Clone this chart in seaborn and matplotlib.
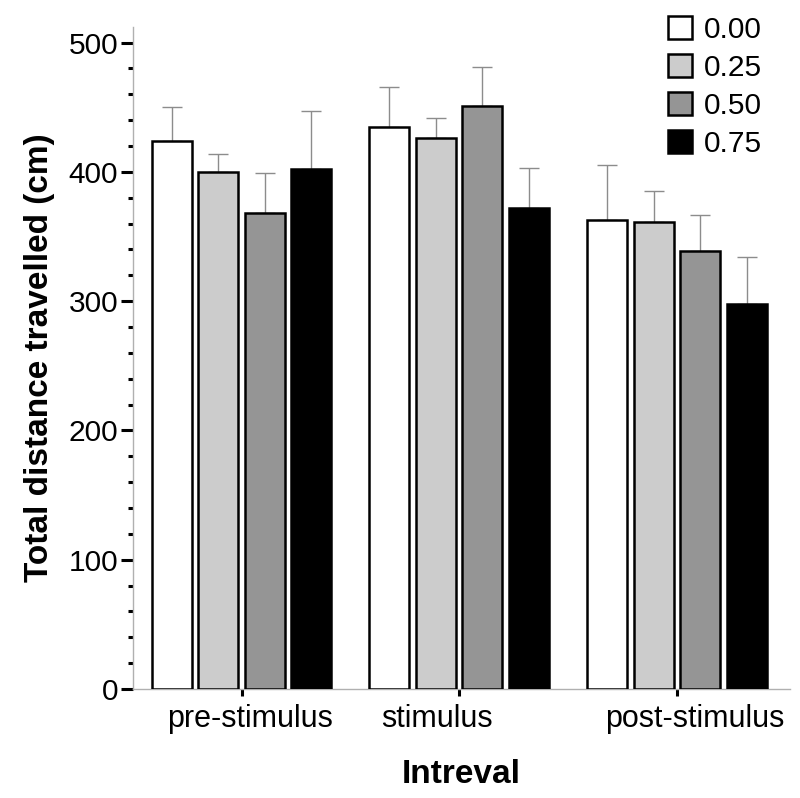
import matplotlib
matplotlib.use("Agg")
import matplotlib.pyplot as plt
import matplotlib.transforms as mtransforms
from matplotlib.ticker import MultipleLocator
import numpy as np
import pandas as pd
import seaborn as sns

# values
intervals = ['pre-stimulus', 'stimulus', 'post-stimulus']
concs = ['0.00', '0.25', '0.50', '0.75']
mean_000 = [424, 435, 363]
mean_025 = [400, 426, 361]
mean_050 = [368, 451, 339]
mean_075 = [402, 372, 298]
err_000 = [26, 31, 42]
err_025 = [14, 16, 24]
err_050 = [31, 30, 28]
err_075 = [45, 31, 36]
bar_colors = ['#ffffff', '#cccccc', '#959595', '#000000']

means = [mean_000, mean_025, mean_050, mean_075]
errs = [err_000, err_025, err_050, err_075]
rows = []
for c, m in zip(concs, means):
    for iv, v in zip(intervals, m):
        rows.append({'interval': iv, 'conc': c, 'distance': v})
df = pd.DataFrame(rows)

sns.set_style('ticks')
plt.rcParams['font.family'] = ['Liberation Sans', 'DejaVu Sans']
plt.rcParams['text.color'] = 'black'
plt.rcParams['axes.labelcolor'] = 'black'
plt.rcParams['xtick.color'] = 'black'
plt.rcParams['ytick.color'] = 'black'

fig = plt.figure(figsize=(8, 7.98), dpi=100)
ax = fig.add_axes([0.166, 0.1366, 0.8215, 0.8294])

sns.barplot(data=df, x='interval', y='distance', hue='conc', order=intervals,
            hue_order=concs, palette=bar_colors, edgecolor='black', linewidth=1.8,
            width=0.855, gap=0.14, errorbar=None, ax=ax, zorder=3)

# upper error bars only, drawn behind the bars so the lower cap is hidden
for cont, e in zip(ax.containers, errs):
    xs = [b.get_x() + b.get_width() / 2 for b in cont]
    ys = [b.get_height() for b in cont]
    ax.errorbar(xs, ys, yerr=[np.zeros(len(e)), e], fmt='none', ecolor='#8c8c8c',
                elinewidth=1, capsize=7.5, capthick=1, zorder=1)

ax.set_xlim(-0.5, 2.52)
ax.set_ylim(0, 512)
ax.yaxis.set_major_locator(MultipleLocator(100))
ax.yaxis.set_minor_locator(MultipleLocator(20))

sns.despine(ax=ax)
for s in ['left', 'bottom']:
    ax.spines[s].set_color('#b0b0b0')
    ax.spines[s].set_linewidth(1)

ax.tick_params(axis='y', which='major', length=8.5, width=2.2, color='black',
               labelsize=21.5, pad=2, labelcolor='black')
ax.tick_params(axis='y', which='minor', length=3.5, width=2.2, color='black')
ax.tick_params(axis='x', length=5, width=2.2, color='black', labelsize=22, pad=6,
               labelcolor='black')

# shift category labels as in the reference
shifts = [8, -22, 18]
for lab, dx in zip(ax.get_xticklabels(), shifts):
    off = mtransforms.ScaledTranslation(dx / 100, 0, fig.dpi_scale_trans)
    lab.set_transform(lab.get_transform() + off)

ax.set_xlabel('Intreval', fontsize=24, fontweight='bold', labelpad=18)
ax.set_ylabel('Total distance travelled (cm)', fontsize=24, fontweight='bold', labelpad=10)

handles, labels = ax.get_legend_handles_labels()
ax.get_legend().remove()
ax.legend(handles, labels, loc='upper left', bbox_to_anchor=(0.835, 0.98),
          bbox_transform=fig.transFigure, frameon=False, fontsize=21.5,
          handlelength=0.8, handleheight=0.8, handletextpad=0.4,
          labelspacing=0.33, borderpad=0, borderaxespad=0)

fig.savefig('out.png', dpi=100)
